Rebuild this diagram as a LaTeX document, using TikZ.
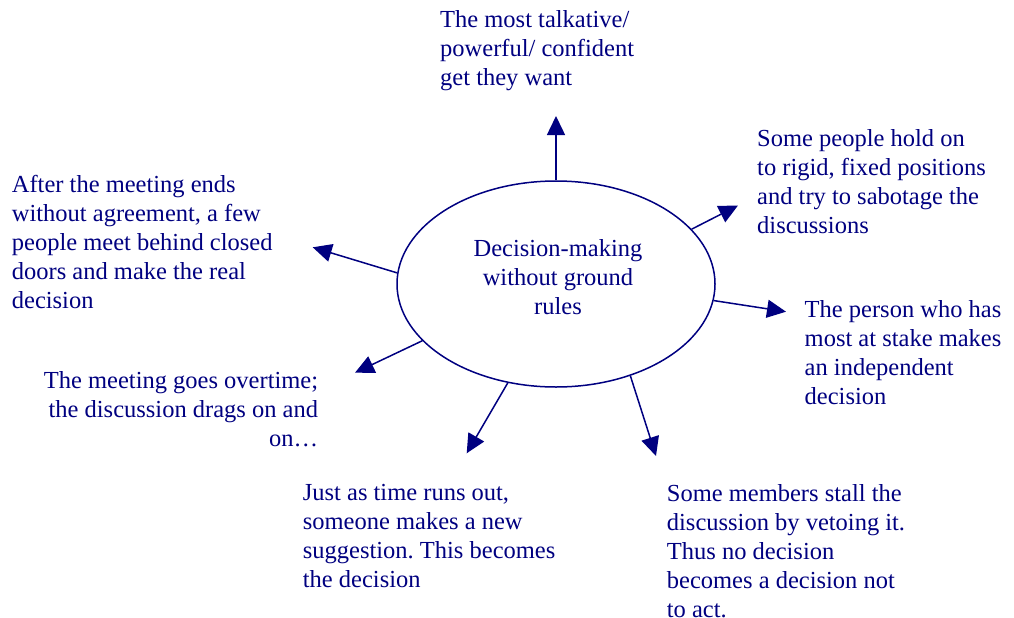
\documentclass[tikz,border=0pt]{standalone}
\usepackage{fontspec}
\setmainfont{Liberation Serif}
\usetikzlibrary{arrows.meta,shapes.geometric}
\definecolor{ink}{RGB}{0,0,128}
\frenchspacing
\tikzset{
   every path/.style={>={Triangle[length=19pt,width=18pt]}},
   hub/.style={ellipse,draw=ink,line width=1.5pt,minimum width=318pt,minimum height=206pt,inner sep=0pt},
   res/.style={text=ink,inner sep=0pt,align=left,anchor=north west,font=\fontsize{24.5}{29}\selectfont},
   lead/.style={->,draw=ink,fill=ink,line width=1.5pt},
}

\begin{document}
\begin{tikzpicture}[x=1pt,y=-1pt]
      \useasboundingbox (0,0) rectangle (1014,618);
      \node[hub] (dm) at (556,284) {};
      \node[res,align=center,anchor=north] (dmlab) at (558,239) {Decision-making\\without ground\\rules};
      \node[res] (talk) at (440,10.3) {The most talkative/\\powerful/ confident\\get they want};
      \node[res] (rigid) at (757,129.3) {Some people hold on\\to rigid, fixed positions\\and try to sabotage the\\discussions};
      \node[res] (stake) at (804.5,300.3) {The person who has\\most at stake makes\\an independent\\decision};
      \node[res] (veto) at (666.7,484) {Some members stall the\\discussion by vetoing it.\\Thus no decision\\becomes a decision not\\to act.};
      \node[res] (sugg) at (302.7,484) {Just as time runs out,\\someone makes a new\\suggestion. This becomes\\the decision};
      \node[res,align=right,anchor=north east] (over) at (318.3,371.7) {The meeting goes overtime;\\the discussion drags on and\\on\dots};
      \node[res] (door) at (11.7,175) {After the meeting ends\\without agreement, a few\\people meet behind closed\\doors and make the real\\decision};
      % arrow tips
      \coordinate (tTalk) at (556,116);
      \coordinate (tRigid) at (738,205.5);
      \coordinate (tStake) at (786,311.7);
      \coordinate (tVeto) at (656,456);
      \coordinate (tSugg) at (466.7,453.3);
      \coordinate (tOver) at (355,372.7);
      \coordinate (tDoor) at (312.7,247.3);
      \draw[lead] (dm.90)  --  (tTalk);
      \draw[lead] (dm.22.7)  --  (tRigid);
      \draw[lead] (dm.-6.4)  --  (tStake);
      \draw[lead] (dm.-51.9)  --  (tVeto);
      \draw[lead] (dm.-116.4)  --  (tSugg);
      \draw[lead] (dm.203.3)  --  (tOver);
      \draw[lead] (dm.176.2)  --  (tDoor);
    \end{tikzpicture}
\end{document}
